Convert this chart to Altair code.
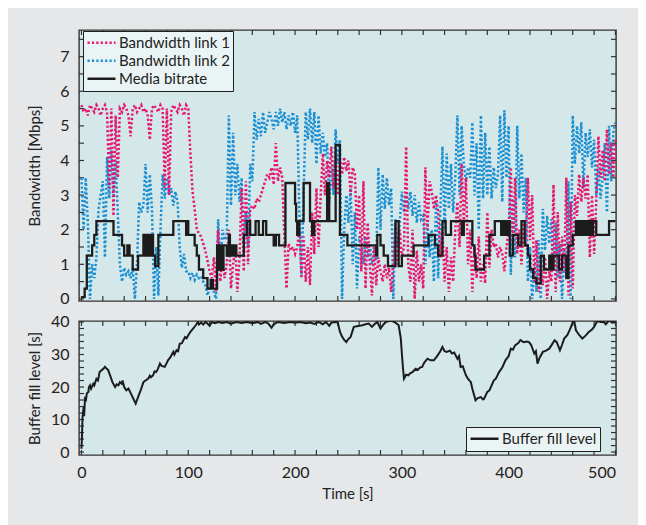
import altair as alt
import pandas as pd

# ---------------- data ----------------
t_bw = list(range(0, 501, 2))

link1 = [5.6, 5.4, 5.5, 5.3, 5.6, 5.5, 5.4, 5.6, 5.5, 5.3,
         5.5, 5.6, 5.4, 3.2, 5.5, 2.4, 5.3, 3.5, 5.5, 5.4,
         5.6, 5.5, 5.3, 4.7, 5.5, 5.6, 5.4, 5.5, 5.6, 5.4,
         5.5, 5.3, 4.6, 5.5, 5.6, 5.5, 5.4, 5.6, 5.5, 3.2,
         5.5, 3.0, 5.4, 5.6, 5.5, 5.4, 5.6, 5.5, 5.3, 5.6,
         5.5, 4.2, 3.1, 2.6, 2.0, 1.9, 1.8, 1.6, 1.4, 1.1,
         0.8, 0.6, 1.2, 0.2, 2.0, 0.5, 1.2, 0.6, 1.0, 2.0,
         0.3, 1.0, 1.5, 0.2, 1.2, 3.2, 0.8, 3.4, 1.0, 2.6,
         2.7, 2.6, 2.9, 2.8, 3.0, 3.2, 3.4, 3.6, 3.5, 3.8,
         3.3, 4.5, 3.4, 3.8, 3.5, 1.8, 0.3, 1.6, 1.4, 1.5,
         1.3, 1.5, 2.0, 0.6, 1.8, 0.5, 1.5, 0.4, 2.5, 1.3,
         3.2, 1.5, 3.0, 4.2, 3.0, 4.0, 3.5, 4.4, 3.2, 4.2,
         3.0, 4.0, 3.6, 4.1, 3.7, 4.0, 3.0, 3.8, 3.6, 2.0,
         3.0, 0.8, 3.4, 0.3, 2.2, 1.0, 0.1, 1.5, 0.4, 1.2,
         0.8, 0.5, 1.0, 0.6, 0.9, 0.2, 1.0, 2.2, 1.0, 2.0,
         1.2, 1.5, 4.4, 1.0, 0.5, 2.0, 0.0, 1.4, 0.5, 1.0,
         0.3, 3.8, 2.0, 3.4, 3.1, 2.6, 3.0, 2.5, 1.2, 2.0,
         0.5, 1.5, 0.2, 1.2, 0.5, 2.0, 2.8, 1.5, 3.9, 2.2,
         3.5, 1.0, 2.0, 0.2, 1.5, 0.6, 1.8, 0.5, 1.0, 0.45,
         2.5, 0.9, 2.0, 1.5, 1.6, 1.2, 1.5, 1.3, 0.8, 1.5,
         2.0, 3.8, 1.5, 3.5, 1.3, 2.0, 1.0, 2.2, 1.5, 3.5,
         1.7, 3.0, 0.5, 1.7, 0.2, 1.0, 0.4, 1.2, 0.0, 0.8,
         0.5, 3.3, 0.2, 2.5, 0.5, 1.8, 0.8, 3.5, 0.1, 2.8,
         0.3, 3.0, 2.4, 3.6, 2.8, 3.5, 2.9, 3.6, 1.2, 3.0,
         1.3, 2.8, 4.7, 3.5, 4.3, 3.4, 4.9, 3.6, 4.5, 3.5,
         4.6]

link2 = [3.5, 2.0, 3.5, 2.2, 0.0, 1.0, 0.6, 1.2, 2.6, 3.0,
         3.4, 1.2, 4.1, 2.9, 4.3, 3.0, 4.0, 2.5, 1.0, 0.5,
         0.9, 0.7, 0.8, 0.6, 0.9, 0.0, 1.0, 2.8, 2.5, 2.7,
         3.9, 2.5, 3.6, 2.6, 0.0, 1.5, 0.1, 2.0, 3.6, 2.9,
         3.5, 3.0, 3.2, 2.7, 3.1, 2.8, 1.5, 0.9, 1.3, 0.8,
         0.8, 0.6, 0.75, 0.55, 0.7, 0.6, 0.65, 0.5, 0.4, 0.1,
         0.3, 0.5, 0.2, 0.0, 2.3, 0.8, 2.0, 1.7, 1.8, 5.3,
         2.7, 4.8, 3.0, 3.9, 2.8, 3.5, 1.6, 2.5, 1.5, 3.9,
         3.4, 5.4, 4.6, 5.2, 4.7, 5.4, 4.8, 5.1, 5.4, 5.2,
         4.9, 5.4, 5.0, 5.5, 5.1, 5.4, 4.9, 5.3, 5.0, 5.4,
         4.8, 5.3, 2.5, 0.7, 3.0, 5.4, 4.6, 5.5, 4.5, 5.4,
         3.9, 5.3, 4.2, 4.8, 4.1, 4.5, 2.8, 3.8, 3.0, 4.9,
         3.9, 4.6, 0.0, 2.0, 3.0, 2.2, 3.2, 1.0, 2.5, 0.3,
         1.8, 1.5, 1.0, 1.8, 1.2, 1.6, 1.0, 1.5, 1.1, 3.8,
         2.0, 3.6, 2.6, 3.5, 2.7, 3.2, 0.0, 2.3, 1.5, 2.2,
         3.1, 2.5, 3.0, 2.6, 3.1, 2.4, 3.0, 2.2, 2.8, 2.3,
         2.4, 1.0, 2.2, 1.2, 2.0, 0.5, 2.8, 0.6, 2.5, 4.4,
         2.0, 4.2, 2.6, 3.9, 2.5, 3.5, 5.3, 3.0, 5.0, 3.9,
         3.4, 3.8, 3.5, 5.1, 3.0, 4.5, 2.0, 5.3, 2.9, 4.8,
         3.0, 4.4, 2.9, 3.8, 3.2, 3.6, 5.3, 2.8, 5.45, 3.5,
         5.0, 0.7, 2.9, 1.2, 5.0, 2.9, 4.2, 2.5, 3.5, 0.5,
         1.5, 0.0, 1.0, 0.2, 1.7, 0.0, 2.6, 1.4, 2.4, 1.6,
         2.3, 1.0, 2.2, 0.6, 1.6, 0.0, 1.4, 0.6, 3.4, 0.0,
         5.3, 3.9, 5.0, 4.2, 5.1, 3.2, 4.8, 4.1, 4.9, 3.8,
         4.6, 3.0, 3.8, 2.9, 3.5, 4.5, 2.5, 5.0, 3.4, 4.8,
         5.1]

rate_t = [0, 3, 5, 10, 12, 14, 30, 38, 40, 43,
          45, 48, 53, 58, 59, 61, 63, 65, 67, 69,
          72, 86, 98, 99, 100, 106, 108, 110, 114, 118,
          121, 123, 127, 129, 130, 132, 133, 136, 137, 138,
          139, 141, 142, 144, 145, 152, 155, 158, 163, 166,
          170, 173, 180, 182, 185, 191, 200, 201, 202, 204,
          208, 214, 216, 218, 230, 232, 238, 242, 249, 276,
          277, 280, 283, 287, 294, 297, 300, 311, 325, 331,
          334, 338, 341, 346, 356, 358, 366, 368, 369, 377,
          382, 387, 393, 395, 397, 399, 401, 404, 409, 412,
          415, 418, 420, 423, 426, 430, 433, 438, 440, 442,
          447, 450, 454, 456, 460, 463, 465, 467, 469, 471,
          473, 475, 477, 479, 482, 494, 500]
rate_v = [0.05, 0.3, 1.25, 1.55, 1.85, 2.25, 1.85, 1.55, 1.25, 1.55,
          1.25, 0.85, 1.25, 1.85, 1.25, 1.85, 1.25, 1.85, 1.25, 0.95,
          1.85, 2.25, 1.85, 2.25, 1.85, 1.55, 1.25, 0.85, 0.6, 0.3,
          0.55, 0.3, 1.55, 0.85, 1.55, 0.85, 1.55, 1.25, 1.55, 1.85,
          1.25, 1.55, 1.25, 1.55, 1.25, 1.85, 2.25, 1.85, 2.25, 1.85,
          2.25, 1.85, 1.55, 1.85, 1.55, 3.35, 2.75, 2.25, 1.85, 2.25,
          3.35, 2.25, 1.85, 2.25, 3.35, 2.25, 4.45, 1.85, 1.55, 1.25,
          1.85, 1.55, 1.25, 0.95, 2.25, 0.95, 1.25, 1.55, 1.85, 1.55,
          1.25, 2.25, 1.85, 2.25, 1.85, 2.25, 1.55, 1.25, 0.85, 1.25,
          1.85, 2.25, 1.85, 2.25, 1.85, 2.25, 1.25, 1.85, 1.55, 2.25,
          1.55, 1.25, 0.85, 0.6, 0.45, 1.25, 0.85, 1.25, 0.85, 1.25,
          0.85, 1.25, 0.6, 1.55, 1.85, 2.25, 1.85, 2.25, 1.85, 2.25,
          1.85, 2.25, 1.85, 2.25, 1.85, 2.25, 2.25]

buf_t = [0, 0.5, 1, 2, 2.5, 3.4, 4, 5, 6.5, 7,
         8, 9, 11, 12, 14, 15.5, 17, 19, 20.5, 22,
         23.7, 25, 26.8, 29, 31.5, 33, 34.6, 36, 37.7, 38.5,
         40, 42, 44, 45.5, 47, 48.6, 50.8, 52, 53, 56,
         58, 60, 62.6, 64, 65, 67, 68.5, 70, 71.5, 73.5,
         75, 78, 80, 81, 83, 86, 87, 89, 90.5, 92,
         94, 97, 98.5, 100, 102, 104.7, 107, 109, 110, 112,
         114, 116, 118, 120, 122, 125, 128, 132, 136, 140,
         145, 150, 155, 160, 165, 168, 172, 175, 178, 180,
         184, 190, 195, 200, 205, 210, 214, 218, 222, 226,
         229, 232, 234, 238, 240, 242, 244, 246, 248, 249.5,
         252, 255, 258, 263, 266, 269, 272, 274, 277, 280,
         283, 285, 288, 291, 294, 297, 299, 300, 301, 302,
         304, 306, 308, 310, 313, 315, 317, 319, 321, 324,
         327, 330, 333, 336, 338, 340, 342, 345, 347, 349,
         352, 353.5, 355, 357, 360, 362, 364.6, 366, 369, 371,
         374, 376, 377, 380, 382, 386, 388, 391, 394, 397,
         400, 402, 404, 406, 409, 411, 414, 417, 419, 421,
         424, 425.5, 427, 429, 432, 435, 438, 440, 443, 445,
         448, 450, 452, 455, 457, 459, 461, 463, 466, 469,
         472, 475, 478, 480, 483, 486, 489, 491, 494, 497,
         500]
buf_v = [1, 5, 10.8, 13.8, 11, 17, 15.5, 18, 18.5, 20,
         20.5, 19.5, 21, 20.5, 22.5, 22, 24.6, 25.2, 25.6, 26.2,
         25.6, 25.2, 23.6, 21.5, 20, 20.8, 20.5, 21.5, 21, 22,
         20, 19, 19.5, 18.5, 17.5, 16.4, 14.9, 16, 16.9, 19.5,
         21.5, 22, 22.6, 23.5, 23, 23.6, 24.8, 24.6, 25.5, 27.2,
         26.5, 26.2, 27.5, 28.2, 29, 30.8, 30, 31.3, 31, 33.3,
         33.5, 35.4, 35, 35.9, 37, 38, 39, 40, 39.2, 39.8,
         39.2, 40, 39.5, 38.8, 40, 39.6, 40, 39.7, 40, 39.5,
         40, 39.7, 40, 39.6, 40, 39.4, 40, 39.5, 38.2, 39.3,
         40, 39.7, 40, 39.8, 40, 39.6, 39.8, 39.4, 40, 39.3,
         40, 38.8, 39.8, 40, 39.8, 37, 35.5, 34.5, 33.8, 34.6,
         35.4, 38.5, 38.7, 39, 39.3, 39.5, 38.5, 39.2, 40, 38,
         39.3, 40, 40.3, 40.3, 39.8, 39, 35, 30.3, 26, 22.6,
         23.8, 23.6, 24.3, 24.6, 25.6, 25.3, 26, 26.2, 27.5, 28.7,
         28.2, 28.2, 29.5, 31, 32.3, 31, 30.8, 31.2, 30.3, 30.6,
         28.7, 29.5, 26.2, 26.4, 23.6, 22.5, 21.5, 19.5, 15.9, 16.6,
         16.9, 16.2, 16.4, 18.5, 19, 22, 22.6, 24.6, 26, 28.2,
         29.5, 31.8, 31.5, 32.8, 33.5, 34.4, 33.8, 34, 33.8, 33,
         30.3, 31, 27.2, 29, 30.8, 31.2, 31.8, 32.8, 34.4, 33.8,
         31.3, 33, 34.9, 36, 37.4, 39, 41, 37.4, 36, 34.9,
         35.8, 36.9, 37.7, 38.5, 40.3, 40, 40, 39.3, 40.5, 39.8,
         40]

series_top = ["Bandwidth link 1", "Bandwidth link 2", "Media bitrate"]
series_bottom = ["Buffer fill level"]

x_tick_minor = list(range(0, 501, 20))
x_tick_labels = [0, 100, 200, 300, 400, 500]
y1_tick_minor = [i * 0.5 for i in range(0, 16)]
y1_tick_labels = [0, 1, 2, 3, 4, 5, 6, 7]
y2_tick_minor = list(range(0, 41, 2))
y2_tick_labels = [0, 10, 20, 30, 40]

# ---------------- style ----------------
FONT = "Lato"
TXT = "#222222"
PINK = "#e6176f"
BLUE = "#1a8fd3"
BLACK = "#1c1c1c"
W, H1, H2 = 537, 271, 134
TL = 5

df_l1 = pd.DataFrame({"t": t_bw, "v": link1, "s": series_top[0]})
df_l2 = pd.DataFrame({"t": t_bw, "v": link2, "s": series_top[1]})
df_rate = pd.DataFrame({"t": rate_t, "v": rate_v, "s": series_top[2]})
df_buf = pd.DataFrame({"t": buf_t, "v": buf_v, "s": series_bottom[0]})
df_xt = pd.DataFrame({"t": x_tick_minor})
df_y1t = pd.DataFrame({"v": y1_tick_minor})
df_y2t = pd.DataFrame({"v": y2_tick_minor})

xscale = alt.Scale(domain=[-2.3, 500.5], nice=False, zero=False)
y1scale = alt.Scale(domain=[-0.06, 7.77], nice=False, zero=False)
y2scale = alt.Scale(domain=[-0.9, 40.3], nice=False, zero=False)

ax_common = dict(ticks=False, domain=False, grid=False, labelFont=FONT,
                 labelFontSize=16, labelColor=TXT, titleFont=FONT,
                 titleFontSize=15, titleFontWeight="normal", titleColor=TXT)

y1axis = alt.Axis(values=y1_tick_labels, title="Bandwidth [Mbps]", labelPadding=10,
                  minExtent=30, maxExtent=30, titlePadding=7, **ax_common)
y2axis = alt.Axis(values=y2_tick_labels, title="Buffer fill level [s]", labelPadding=10,
                  minExtent=30, maxExtent=30, titlePadding=7, **ax_common)
x2axis = alt.Axis(values=x_tick_labels, title="Time [s]", labelPadding=9,
                  titlePadding=6, **ax_common)

leg_common = dict(orient="none", title=None, fillColor="#eaf4f5", strokeColor="#1e1e1e",
                  padding=3, labelFont=FONT, labelFontSize=15, labelColor=TXT,
                  symbolType="stroke", symbolSize=784, symbolStrokeWidth=2.5,
                  clipHeight=17.5, labelOffset=2, rowPadding=0)
leg_top = alt.Legend(legendX=4, legendY=1, **leg_common)
leg_bot = alt.Legend(legendX=387, legendY=106, **leg_common)

color_top = alt.Color("s:N", scale=alt.Scale(domain=series_top, range=[PINK, BLUE, BLACK]),
                      legend=leg_top)
dash_top = alt.StrokeDash("s:N", scale=alt.Scale(domain=series_top,
                                                 range=[[2.2, 2.2], [2.2, 2.2], [1, 0]]),
                          legend=leg_top)

X_top = alt.X("t:Q", scale=xscale, axis=None)
Y_top = alt.Y("v:Q", scale=y1scale, axis=y1axis)

line1 = alt.Chart(df_l1).mark_line(strokeWidth=2.5, clip=True).encode(
    x=X_top, y=Y_top, color=color_top, strokeDash=dash_top)
line2 = alt.Chart(df_l2).mark_line(strokeWidth=2.5, clip=True).encode(
    x=X_top, y=Y_top, color=color_top, strokeDash=dash_top)
rate = alt.Chart(df_rate).mark_line(strokeWidth=2.3, interpolate="step-after", clip=True).encode(
    x=X_top, y=Y_top, color=color_top, strokeDash=dash_top)

def tick_layers(h, ydf, yscale, yaxis, xaxis):
    xb = alt.Chart(df_xt).mark_rule(color="#333333", strokeWidth=1.2).encode(
        x=alt.X("t:Q", scale=xscale, axis=xaxis), y=alt.value(h), y2=alt.value(h - TL))
    xt = alt.Chart(df_xt).mark_rule(color="#333333", strokeWidth=1.2).encode(
        x=alt.X("t:Q", scale=xscale, axis=xaxis), y=alt.value(0), y2=alt.value(TL))
    yl = alt.Chart(ydf).mark_rule(color="#333333", strokeWidth=1.2).encode(
        y=alt.Y("v:Q", scale=yscale, axis=yaxis), x=alt.value(0), x2=alt.value(TL))
    yr = alt.Chart(ydf).mark_rule(color="#333333", strokeWidth=1.2).encode(
        y=alt.Y("v:Q", scale=yscale, axis=yaxis), x=alt.value(W), x2=alt.value(W - TL))
    return [xb, xt, yl, yr]

top = alt.layer(*tick_layers(H1, df_y1t, y1scale, y1axis, None), line2, line1, rate).properties(
    width=W, height=H1)

color_bot = alt.Color("s:N", scale=alt.Scale(domain=series_bottom, range=[BLACK]), legend=leg_bot)
buf = alt.Chart(df_buf).mark_line(strokeWidth=2.0, clip=True).encode(
    x=alt.X("t:Q", scale=xscale, axis=x2axis),
    y=alt.Y("v:Q", scale=y2scale, axis=y2axis),
    color=color_bot)

bottom = alt.layer(*tick_layers(H2, df_y2t, y2scale, y2axis, x2axis), buf).properties(
    width=W, height=H2)

chart = alt.vconcat(top, bottom, spacing=5).resolve_scale(
    color="independent", strokeDash="independent").properties(
    background="#e6e7e8",
    padding={"left": 18, "top": 20, "right": 20, "bottom": 24},
).configure_view(fill="#d5e8e9", stroke="#333333", strokeWidth=1.4)

chart.save("out.html", embed_options={"renderer": "svg", "actions": False})
